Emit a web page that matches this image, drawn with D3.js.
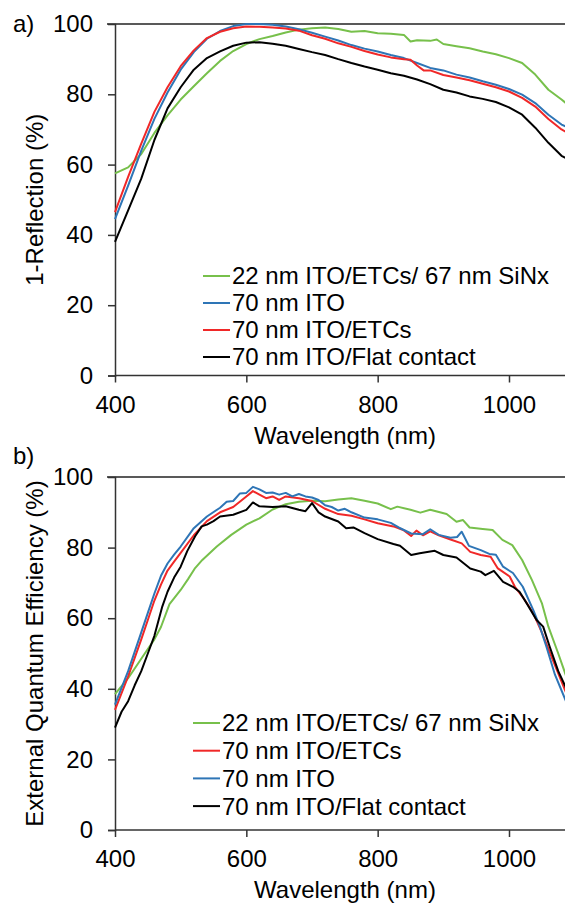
<!DOCTYPE html>
<html>
<head>
<meta charset="utf-8">
<script src="https://cdn.jsdelivr.net/npm/d3@7"></script>
<style>
  body { margin: 0; background: #fff; }
  svg { display: block; font-family: "Liberation Sans", Arial, sans-serif; }
</style>
</head>
<body>
<svg id="viz" width="565" height="905"></svg>
<script>
// series names and colours
var seriesNames = ["22 nm ITO/ETCs/ 67 nm SiNx", "70 nm ITO", "70 nm ITO/ETCs", "70 nm ITO/Flat contact"];
var seriesColors = ["#77c04b", "#2e75b6", "#f02828", "#000000"];

var xTicks = [400, 600, 800, 1000];
var yTicks = [0, 20, 40, 60, 80, 100];

// a) 1-Reflection (%)
var reflGreen = [[400,57.5],[420,59.2],[440,63],[460,69],[480,74],[500,78.5],[520,82.3],[540,86],[560,89.5],[580,92.3],[600,94.3],[620,95.7],[640,96.6],[660,97.6],[680,98.4],[700,98.8],[720,99],[740,98.6],[760,97.8],[780,98],[800,97.4],[820,97.2],[840,96.9],[850,95],[860,95.4],[880,95.2],[890,95.6],[900,94.3],[920,93.7],[940,93.1],[960,92.2],[980,91.4],[1000,90.3],[1020,88.9],[1040,85.6],[1060,81.3],[1080,78.5],[1090,77]];
var reflBlue = [[400,44.5],[420,54],[440,64],[460,73],[480,80.5],[500,87],[520,92],[540,95.8],[560,98],[580,99.4],[600,100],[620,100],[640,99.8],[660,99.3],[680,98.5],[700,97.5],[720,96.4],[740,95.3],[760,94],[780,93],[800,92.2],[820,91.2],[840,90.3],[860,88.9],[880,87.5],[900,86.8],[920,85.6],[940,84.8],[960,83.7],[980,82.7],[1000,81.5],[1020,79.9],[1040,77.5],[1060,74.2],[1080,71.4],[1090,70.5]];
var reflRed = [[400,46.5],[420,56.5],[440,66],[460,75],[480,82],[500,88],[520,92.5],[540,96],[560,97.8],[580,98.8],[600,99.3],[620,99.2],[640,99],[660,98.7],[680,98.1],[700,96.8],[720,95.8],[740,94.5],[760,93.5],[780,92.3],[800,91.3],[820,90.5],[840,90],[850,89.8],[860,88.2],[870,86.8],[880,86.8],[900,85.5],[920,84.8],[940,84],[960,83],[980,82],[1000,80.8],[1020,79],[1040,76.5],[1060,73],[1080,70],[1090,69]];
var reflBlack = [[400,38],[420,47],[440,56],[460,67],[480,76],[500,82],[520,87],[540,90.3],[560,92.2],[580,93.8],[600,94.7],[620,94.8],[640,94.4],[660,93.8],[680,92.9],[700,92],[720,91.2],[740,90],[760,88.9],[780,87.9],[800,87],[820,86],[840,85.3],[860,84.2],[880,82.9],[900,81.3],[920,80.5],[940,79.4],[960,78.7],[980,77.8],[1000,76.3],[1020,74.2],[1040,70.5],[1060,66.2],[1080,62.5],[1090,61.5]];

// b) External Quantum Efficiency (%)
var eqeGreen = [[400,38.5],[420,43],[440,48.5],[460,54],[470,57.5],[483,64],[500,68],[511,71],[522,74.2],[533,76.5],[555,80.3],[577,83.6],[600,86.5],[620,88.3],[640,90.8],[660,92.3],[680,93],[700,93.3],[720,93.1],[740,93.6],[760,94],[780,93.3],[800,92.5],[820,90.9],[830,91.6],[850,90.7],[865,89.9],[880,90.7],[905,89.5],[920,87.3],[930,87.8],[940,85.7],[960,85.3],[975,85],[990,82.2],[1005,80.7],[1020,76.5],[1035,70.8],[1050,64.3],[1060,57.6],[1075,50],[1090,42]];
var eqeRed = [[400,34],[420,43.5],[440,54],[450,59.5],[460,65],[470,69.5],[480,73.5],[490,76],[500,78.5],[520,83.5],[540,87.5],[560,90],[580,91.5],[590,93],[600,94.5],[610,96],[620,95],[630,94],[640,94.5],[650,93.5],[660,94.5],[680,94],[700,93.2],[720,91],[740,89.5],[760,89],[780,88],[800,86.9],[824,86],[839,85],[851,83.3],[859,84.8],[869,83.5],[880,84.6],[893,83.5],[911,82.3],[928,81.2],[941,78.8],[957,77.9],[972,77.4],[983,74.1],[1001,71.8],[1009,68.9],[1021,66],[1037,61.4],[1050,56],[1065,49],[1090,37.5]];
var eqeBlue = [[400,35.5],[420,45],[440,56],[450,61.5],[460,67],[470,72],[480,75.5],[490,78],[500,80.3],[520,85.5],[540,88.8],[560,91.3],[570,93],[580,93.2],[590,95.3],[600,95.5],[610,97.2],[620,96.5],[630,95.5],[640,95.6],[650,95],[660,95.5],[670,94.5],[680,95.2],[690,94.5],[700,94.2],[710,93.5],[720,92],[730,91.5],[740,90.5],[750,91],[760,90],[780,88.5],[800,88],[820,87],[832,85.7],[851,84],[869,83.8],[880,85.2],[893,83.6],[911,82.8],[921,83],[928,84.5],[939,80.5],[957,79.3],[970,78.2],[980,78],[991,74.6],[1006,72.8],[1021,68.9],[1037,62.3],[1047,57.6],[1057,51.9],[1070,44],[1090,35]];
var eqeBlack = [[400,29],[410,33.5],[420,36.5],[430,41],[440,45],[450,50],[460,55],[472,63.3],[480,67.5],[490,71.5],[500,74.6],[510,79],[522,83.2],[532,86],[540,86.5],[550,87.5],[560,88.8],[580,89.3],[600,90.7],[610,92.8],[620,91.7],[640,91.5],[660,91.7],[680,90.7],[690,90.3],[700,92.6],[710,90],[720,88.8],[740,87.4],[752,85.5],[763,85.7],[780,84.1],[800,82.4],[824,81],[834,80.5],[851,77.9],[864,78.4],[887,79.1],[900,77.9],[920,77.2],[941,74.1],[957,73.2],[964,72.2],[977,73.4],[991,70.3],[1006,68.9],[1016,67.5],[1027,64.2],[1042,59.5],[1052,57.6],[1062,51.9],[1075,45],[1090,39]];

var svg = d3.select("#viz");
var fontSize = 24;

var x = d3.scaleLinear().domain([400, 1000]).range([115, 509]);

function panel(opts) {
  var y = d3.scaleLinear().domain([0, 100]).range([opts.y0, opts.y100]);
  var g = svg.append("g");

  // top line at 100
  g.append("line")
    .attr("x1", 107).attr("x2", 565)
    .attr("y1", y(100)).attr("y2", y(100))
    .attr("stroke", "#595959").attr("stroke-width", 2);

  // y axis
  var yAxis = g.append("g")
    .attr("transform", "translate(" + x(400) + ",0)")
    .call(d3.axisLeft(y).tickValues(yTicks).tickSize(7).tickPadding(15).tickFormat(d3.format("d")));
  yAxis.select(".domain").attr("stroke", "#333").attr("stroke-width", 1.5);
  yAxis.selectAll(".tick line").attr("stroke", "#333").attr("stroke-width", 1.5);
  yAxis.selectAll(".tick").filter(function(d){ return d === 100; }).select("line").remove();
  yAxis.selectAll("text").attr("font-size", fontSize).attr("fill", "#000").attr("font-family", "Liberation Sans, Arial, sans-serif");

  // x axis
  var xAxis = g.append("g")
    .attr("transform", "translate(0," + y(0) + ")")
    .call(d3.axisBottom(x).tickValues(xTicks).tickSize(7).tickPadding(13).tickFormat(d3.format("d")));
  xAxis.select(".domain").remove();
  g.append("line")
    .attr("x1", x(400)).attr("x2", 565)
    .attr("y1", y(0)).attr("y2", y(0))
    .attr("stroke", "#333").attr("stroke-width", 1.5);
  xAxis.selectAll(".tick line").attr("stroke", "#333").attr("stroke-width", 1.5);
  xAxis.selectAll("text").attr("font-size", fontSize).attr("fill", "#000").attr("font-family", "Liberation Sans, Arial, sans-serif");

  // axis titles
  g.append("text")
    .attr("x", 345).attr("y", y(0) + 68)
    .attr("text-anchor", "middle").attr("font-size", fontSize)
    .text("Wavelength (nm)");
  g.append("text")
    .attr("transform", "translate(43," + (opts.y0 + opts.y100) / 2 + ") rotate(-90)")
    .attr("text-anchor", "middle").attr("font-size", fontSize)
    .text(opts.yTitle);

  // panel label
  g.append("text")
    .attr("x", 13).attr("y", opts.labelY)
    .attr("font-size", fontSize)
    .text(opts.label);

  // curves
  var line = d3.line()
    .x(function(d){ return x(d[0]); })
    .y(function(d){ return y(d[1]); });
  var curves = g.append("g");
  opts.drawOrder.forEach(function(i){
    curves.append("path")
      .datum(opts.series[i])
      .attr("d", line)
      .attr("fill", "none")
      .attr("stroke", seriesColors[i])
      .attr("stroke-width", 2)
      .attr("stroke-linejoin", "round");
  });

  // legend
  var leg = g.append("g");
  opts.legendOrder.forEach(function(i, k){
    var ly = opts.legendY + k * opts.legendStep;
    leg.append("line")
      .attr("x1", opts.legendX).attr("x2", opts.legendX + 27)
      .attr("y1", ly).attr("y2", ly)
      .attr("stroke", seriesColors[i]).attr("stroke-width", 2);
    leg.append("text")
      .attr("x", opts.legendX + 29).attr("y", ly)
      .attr("dy", "0.35em")
      .attr("font-size", opts.legendFont)
      .text(seriesNames[i]);
  });
}

panel({
  y0: 375.5, y100: 24,
  yTitle: "1-Reflection (%)",
  label: "a)", labelY: 32,
  series: [reflGreen, reflBlue, reflRed, reflBlack],
  drawOrder: [0, 1, 2, 3],
  legendOrder: [0, 1, 2, 3],
  legendX: 203, legendY: 276, legendStep: 27, legendFont: 24
});

panel({
  y0: 830, y100: 477,
  yTitle: "External Quantum Efficiency (%)",
  label: "b)", labelY: 464,
  series: [eqeGreen, eqeBlue, eqeRed, eqeBlack],
  drawOrder: [0, 2, 1, 3],
  legendOrder: [0, 2, 1, 3],
  legendX: 193, legendY: 723, legendStep: 27.7, legendFont: 24
});
</script>
</body>
</html>
